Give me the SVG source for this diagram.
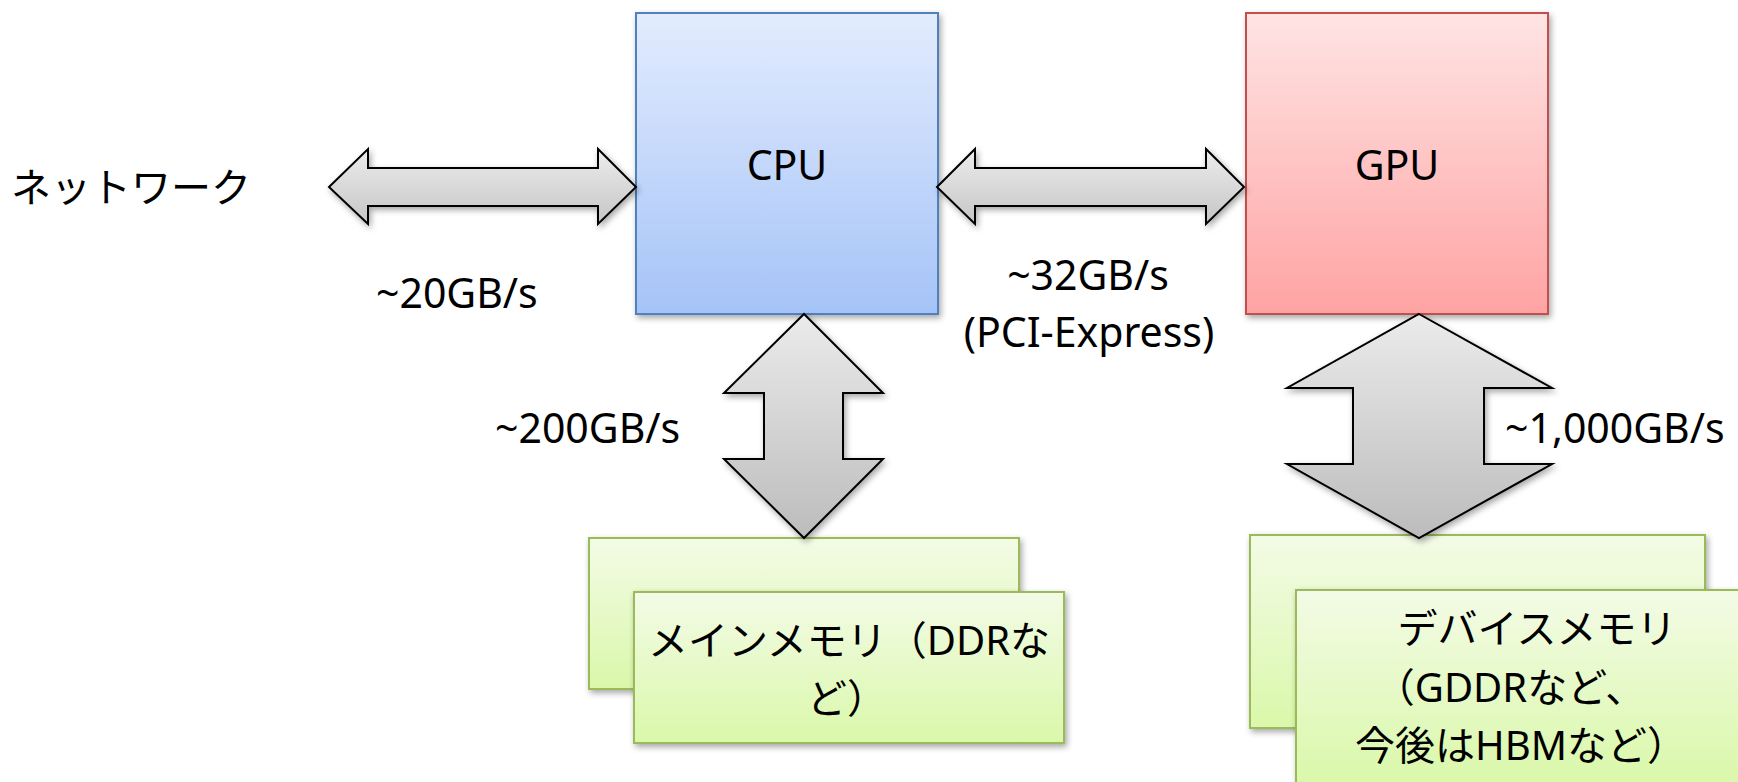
<svg xmlns="http://www.w3.org/2000/svg" width="1738" height="782" viewBox="0 0 1738 782">
  <defs>
    <linearGradient id="gCpu" x1="0" y1="0" x2="0" y2="1">
      <stop offset="0" stop-color="#e3ecfe"/>
      <stop offset="1" stop-color="#a5c3f7"/>
    </linearGradient>
    <linearGradient id="gGpu" x1="0" y1="0" x2="0" y2="1">
      <stop offset="0" stop-color="#ffe4e4"/>
      <stop offset="1" stop-color="#ffa3a3"/>
    </linearGradient>
    <linearGradient id="gMem" x1="0" y1="0" x2="0" y2="1">
      <stop offset="0" stop-color="#f3fbe6"/>
      <stop offset="1" stop-color="#daf8aa"/>
    </linearGradient>
    <linearGradient id="gArrowH" x1="0" y1="0" x2="0" y2="1">
      <stop offset="0" stop-color="#ececec"/>
      <stop offset="1" stop-color="#c6c6c6"/>
    </linearGradient>
    <linearGradient id="gArrowV" x1="0" y1="0" x2="0" y2="1">
      <stop offset="0" stop-color="#ebebeb"/>
      <stop offset="1" stop-color="#bcbcbc"/>
    </linearGradient>
    <filter id="shadow" x="-10%" y="-10%" width="120%" height="130%">
      <feDropShadow dx="2" dy="3" stdDeviation="3" flood-color="#000" flood-opacity="0.35"/>
    </filter>
  </defs>
  <style>
    text { font-family: "Noto Sans", "Noto Sans CJK JP", sans-serif; fill: #000; }
    .lbl { font-size: 41px; }
    .jp { font-size: 40px; }
    .mid { text-anchor: middle; }
    .cpu { fill: url(#gCpu); stroke: #4f81bd; stroke-width: 2; filter: url(#shadow); }
    .gpu { fill: url(#gGpu); stroke: #c0504d; stroke-width: 2; filter: url(#shadow); }
    .mem { fill: url(#gMem); stroke: #9bbb59; stroke-width: 2; filter: url(#shadow); }
    .arrH { fill: url(#gArrowH); stroke: #000; stroke-width: 2; stroke-linejoin: miter; filter: url(#shadow); }
    .arrV { fill: url(#gArrowV); stroke: #000; stroke-width: 2; stroke-linejoin: miter; filter: url(#shadow); }
  </style>

  <rect width="1738" height="782" fill="#ffffff"/>

  <!-- processors -->
  <g id="cpu">
    <rect class="cpu" x="636" y="13" width="302" height="301"/>
    <text class="lbl mid" x="787" y="180">CPU</text>
  </g>
  <g id="gpu">
    <rect class="gpu" x="1246" y="13" width="302" height="301"/>
    <text class="lbl mid" x="1397" y="180">GPU</text>
  </g>

  <!-- memories -->
  <g id="main-memory">
    <rect class="mem" x="589" y="538" width="430" height="151"/>
    <rect class="mem" x="634" y="592" width="430" height="151"/>
    <text class="jp mid" x="849" y="655">メインメモリ（DDRな</text>
    <text class="jp mid" x="847" y="713">ど）</text>
  </g>
  <g id="device-memory">
    <rect class="mem" x="1250" y="535" width="455" height="193"/>
    <rect class="mem" x="1296" y="590" width="455" height="193"/>
    <text class="jp mid" x="1537" y="643">デバイスメモリ</text>
    <text class="jp mid" x="1510" y="702">（GDDRなど、</text>
    <text class="jp mid" x="1521" y="760">今後はHBMなど）</text>
  </g>

  <g id="network">
    <text class="jp" x="11" y="202">ネットワーク</text>
  </g>

  <!-- links -->
  <g id="connectors">
    <path class="arrH" d="M329,187 L368,149 L368,168 L598,168 L598,149 L636,187 L598,224 L598,206 L368,206 L368,224 Z"/>
    <path class="arrH" d="M937,187 L975,149 L975,168 L1206,168 L1206,149 L1244,187 L1206,224 L1206,206 L975,206 L975,224 Z"/>
    <path class="arrV" d="M804,314 L883,393 L843,393 L843,459 L883,459 L804,538 L724,459 L764,459 L764,393 L724,393 Z"/>
    <path class="arrV" d="M1419,314 L1552,388 L1484,388 L1484,464 L1552,464 L1419,538 L1287,464 L1353,464 L1353,388 L1287,388 Z"/>
  </g>

  <!-- bandwidth labels -->
  <g id="labels">
    <text class="lbl" x="376" y="308">~20GB/s</text>
    <text class="lbl mid" x="1088" y="290">~32GB/s</text>
    <text class="lbl mid" x="1089" y="347">(PCI-Express)</text>
    <text class="lbl" x="495" y="443">~200GB/s</text>
    <text class="lbl" x="1505" y="443">~1,000GB/s</text>
  </g>
</svg>
